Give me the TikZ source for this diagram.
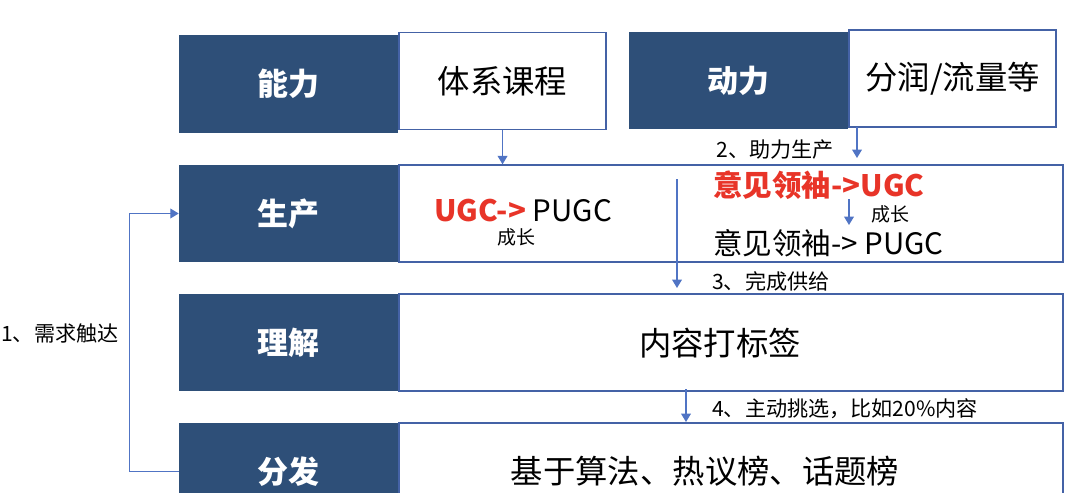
\documentclass[tikz,border=0pt]{standalone}
\usepackage{fontspec}
\setmainfont{Noto Sans CJK SC}
\usetikzlibrary{arrows.meta,positioning}
\definecolor{navy}{RGB}{46,79,120}
\definecolor{rahmen}{RGB}{68,98,166}
\definecolor{linie}{RGB}{80,116,196}
\definecolor{rot}{RGB}{232,52,40}
\begin{document}
\begin{tikzpicture}[
    x=0.025cm, y=-0.025cm,
    >={Triangle[length=6pt,width=7pt]},
    dunkel/.style  = {fill=navy, minimum width=5.475cm, minimum height=2.425cm, inner sep=0pt,
                      text=white, font=\bfseries\fontsize{22}{26}\selectfont},
    kasten/.style  = {draw=rahmen, line width=1pt, fill=white, minimum height=2.425cm, inner sep=0pt,
                      font=\fontsize{23}{27}\selectfont},
    kurz/.style    = {kasten, minimum width=5.175cm},
    lang/.style    = {kasten, minimum width=16.6cm},
    gross/.style   = {inner sep=0pt, font=\fontsize{23}{27}\selectfont},
    mittel/.style  = {inner sep=0pt, font=\fontsize{21}{25}\selectfont},
    klein/.style   = {inner sep=0pt, font=\fontsize{13.5}{16}\selectfont},
    etikett/.style = {inner sep=0pt, font=\fontsize{15}{18}\selectfont},
    pfeil/.style   = {->, draw=linie, line width=0.8pt},
  ]
	\useasboundingbox (0,0) rectangle (1080,493);

	% obere Reihe
	\node[dunkel] (D1) at (288.5,84) {能力};
	\node[kurz, right=0pt of D1, yshift=2pt] (W1) {体系课程};
	\node[dunkel] (D2) at (738.5,80.5) {动力};
	\node[kurz, right=0pt of D2, yshift=1.5pt] (W2) {分润/流量等};

	% Zeilen
	\node[dunkel] (D3) at (288.5,213.5) {生产};
	\node[lang, right=0pt of D3] (W3) {};
	\node[dunkel] (D4) at (288.5,342.5) {理解};
	\node[lang, right=0pt of D4] (W4) {};
	\node[dunkel] (D5) at (288.5,471.5) {分发};
	\node[lang, right=0pt of D5] (W5) {};

	% Texte in den Kaesten
	\node[mittel] (U1) at (523,211) {{\color{rot}\bfseries UGC->} PUGC};
	\node[klein] (C1) at (516,237) {成长};
	\node[mittel, anchor=west] (V1) at (713,185) {\color{rot}\bfseries 意见领袖->UGC};
	\node[klein] (C2) at (890,214) {成长};
	\node[mittel, anchor=west] (V2) at (713,243) {意见领袖-> PUGC};
	\node[gross] (T4) at (720,343) {内容打标签};
	\node[gross] (T5) at (705,471) {基于算法、热议榜、话题榜};

	% Pfeilenden
	\coordinate (A2) at (857,127);
	\coordinate (B2) at (857,158);
	\coordinate (A3) at (677,179);
	\coordinate (B3) at (677,288);
	\coordinate (A4) at (686,389);
	\coordinate (B4) at (686,422);
	\coordinate (AV) at (849,199);
	\coordinate (BV) at (849,225);

	% Pfeile
	\draw[pfeil] (W1.south) -- (W1.south |- W3.north);
	\draw[pfeil] (A2) -- (B2);
	\draw[pfeil] (A3) -- (B3);
	\draw[pfeil] (AV) -- (BV);
	\draw[pfeil] (A4) -- (B4);
	\draw[pfeil] (D5.west) -- ++(-49,0) |- (D3.west);

	% Beschriftungen
	\node[etikett, anchor=east] (L2) at (834,150) {2、助力生产};
	\node[etikett, anchor=west] (L3) at (712,281) {3、完成供给};
	\node[etikett, anchor=west] (L4) at (712,409) {4、主动挑选，比如20\%内容};
	\node[etikett, anchor=west] (L1) at (1,333) {1、需求触达};
\end{tikzpicture}
\end{document}
